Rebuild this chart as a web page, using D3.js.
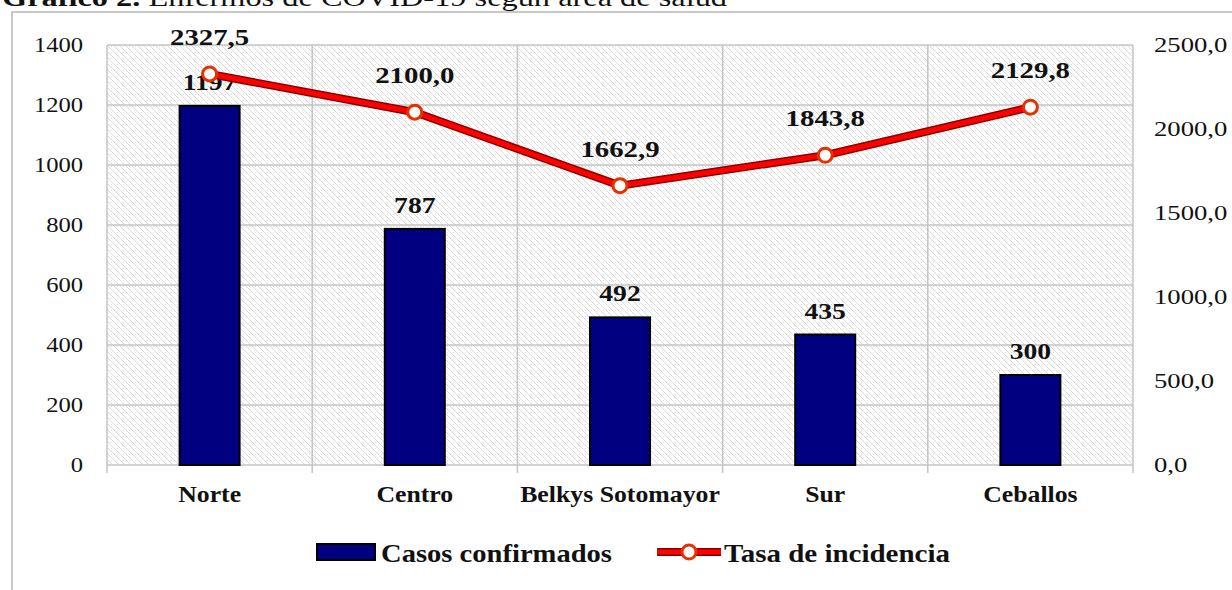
<!DOCTYPE html>
<html>
<head>
<meta charset="utf-8">
<script src="https://cdn.jsdelivr.net/npm/d3@7"></script>
<style>
  body { margin: 0; background: #fff; }
  text { font-family: "Liberation Serif", "Times New Roman", serif; }
</style>
</head>
<body>
<svg id="chart"></svg>
<script>
const areas = ["Norte", "Centro", "Belkys Sotomayor", "Sur", "Ceballos"];
const casos = [1197, 787, 492, 435, 300];
const tasa = [2327.5, 2100.0, 1662.9, 1843.8, 2129.8];
const leftTicks = [0, 200, 400, 600, 800, 1000, 1200, 1400];
const rightTicks = [0, 500, 1000, 1500, 2000, 2500];

const W = 1232, H = 590;
const margin = {top: 45, right: 99, bottom: 125, left: 107};
const width = W - margin.left - margin.right;
const height = H - margin.top - margin.bottom;

// the original picture is stretched sideways, so widen the texts a bit
function widen(sel, k) {
  sel.each(function () {
    const len = this.getComputedTextLength();
    d3.select(this).attr("textLength", len * k).attr("lengthAdjust", "spacingAndGlyphs");
  });
}

const svg = d3.select("#chart").attr("width", W).attr("height", H);

const defs = svg.append("defs");
const pat = defs.append("pattern")
  .attr("id", "hatch")
  .attr("patternUnits", "userSpaceOnUse")
  .attr("width", 6).attr("height", 6);
pat.append("rect").attr("width", 6).attr("height", 6).attr("fill", "#fff");
pat.append("path").attr("d", "M-1,-1 L7,7 M-1,5 L1,7 M5,-1 L7,1")
  .attr("stroke", "#d6d6d6").attr("stroke-width", 0.9);
pat.append("circle").attr("cx", 4.5).attr("cy", 1.5).attr("r", 0.5).attr("fill", "#d0d0d0");

// title, mostly cut off at the top
svg.append("text")
  .attr("x", 2).attr("y", 6)
  .attr("font-size", 26)
  .attr("textLength", 725).attr("lengthAdjust", "spacingAndGlyphs")
  .attr("fill", "#111")
  .html('<tspan font-weight="bold">Gráfico 2.</tspan> Enfermos de COVID-19 según área de salud');

// outer frame
svg.append("path")
  .attr("d", `M12,${H} L12,12 L${W},12`)
  .attr("fill", "none").attr("stroke", "#c8c8c8").attr("stroke-width", 2);

const g = svg.append("g").attr("transform", `translate(${margin.left},${margin.top})`);

const x = d3.scaleBand().domain(areas).range([0, width]);
const yL = d3.scaleLinear().domain([0, 1400]).range([height, 0]);
const yR = d3.scaleLinear().domain([0, 2500]).range([height, 0]);
const cx = i => x(areas[i]) + x.bandwidth() / 2;
const fmt1 = d => d3.format(".1f")(d).replace(".", ",");

g.append("rect").attr("width", width).attr("height", height).attr("fill", "url(#hatch)");

// grid
g.selectAll(".hgrid").data(leftTicks).enter().append("line")
  .attr("x1", 0).attr("x2", width)
  .attr("y1", d => yL(d)).attr("y2", d => yL(d))
  .attr("stroke", "#c4c4c4").attr("stroke-width", 1.5);
g.selectAll(".vgrid").data(areas.slice(1)).enter().append("line")
  .attr("x1", d => x(d)).attr("x2", d => x(d))
  .attr("y1", 0).attr("y2", height + 8)
  .attr("stroke", "#c4c4c4").attr("stroke-width", 1.5);
[0, width].forEach(v => {
  g.append("line").attr("x1", v).attr("x2", v).attr("y1", 0).attr("y2", height + 8)
    .attr("stroke", "#c4c4c4").attr("stroke-width", 1.5);
});

// axes labels
const yAxisL = d3.axisLeft(yL).tickValues(leftTicks).tickSize(0).tickPadding(24).tickFormat(d3.format("d"));
const yAxisR = d3.axisRight(yR).tickValues(rightTicks).tickSize(0).tickPadding(21).tickFormat(fmt1);
const xAxis = d3.axisBottom(x).tickSize(0).tickPadding(21);

const axL = g.append("g").call(yAxisL);
const axR = g.append("g").attr("transform", `translate(${width},0)`).call(yAxisR);
const axX = g.append("g").attr("transform", `translate(0,${height})`).call(xAxis);
[axL, axR, axX].forEach(a => {
  a.select(".domain").remove();
  a.selectAll("text").attr("font-family", "Liberation Serif").attr("fill", "#111");
});
axL.selectAll("text").attr("font-size", 21);
axR.selectAll("text").attr("font-size", 21);
axX.selectAll("text").attr("font-size", 23).attr("font-weight", "bold");
widen(axL.selectAll("text"), 1.17);
widen(axR.selectAll("text"), 1.27);
widen(axX.selectAll("text"), 1.12);

// bars
const bw = 60;
g.selectAll(".bar").data(casos).enter().append("rect")
  .attr("x", (d, i) => cx(i) - bw / 2)
  .attr("y", d => yL(d))
  .attr("width", bw)
  .attr("height", d => height - yL(d))
  .attr("fill", "#000080")
  .attr("stroke", "#000").attr("stroke-width", 2);

const barLabs = g.selectAll(".barlab").data(casos).enter().append("text")
  .attr("x", (d, i) => cx(i))
  .attr("y", d => yL(d) - 16)
  .attr("text-anchor", "middle")
  .attr("font-size", 24).attr("font-weight", "bold").attr("fill", "#111")
  .text(d => d);

// line
const line = d3.line()
  .x((d, i) => cx(i))
  .y(d => yR(d));
g.append("path").datum(tasa).attr("d", line)
  .attr("fill", "none").attr("stroke", "#8a0000").attr("stroke-width", 8);
g.append("path").datum(tasa).attr("d", line)
  .attr("fill", "none").attr("stroke", "#ff0000").attr("stroke-width", 5);
g.selectAll(".pt").data(tasa).enter().append("circle")
  .attr("cx", (d, i) => cx(i))
  .attr("cy", d => yR(d))
  .attr("r", 7)
  .attr("fill", "#fff").attr("stroke", "#e83000").attr("stroke-width", 3);

const lineLabs = g.selectAll(".linelab").data(tasa).enter().append("text")
  .attr("x", (d, i) => cx(i))
  .attr("y", d => yR(d) - 29)
  .attr("text-anchor", "middle")
  .attr("font-size", 24).attr("font-weight", "bold").attr("fill", "#111")
  .text(fmt1);

widen(barLabs, 1.15);
widen(lineLabs, 1.2);

// legend
const leg = svg.append("g");
leg.append("rect").attr("x", 317).attr("y", 544).attr("width", 58).attr("height", 16)
  .attr("fill", "#000080").attr("stroke", "#000").attr("stroke-width", 2);
leg.append("text").attr("x", 381).attr("y", 562)
  .attr("font-size", 25).attr("font-weight", "bold").attr("fill", "#111")
  .attr("textLength", 231).attr("lengthAdjust", "spacingAndGlyphs").text("Casos confirmados");
leg.append("line").attr("x1", 657).attr("x2", 721).attr("y1", 552).attr("y2", 552)
  .attr("stroke", "#8a0000").attr("stroke-width", 8);
leg.append("line").attr("x1", 657).attr("x2", 721).attr("y1", 552).attr("y2", 552)
  .attr("stroke", "#ff0000").attr("stroke-width", 5);
leg.append("circle").attr("cx", 689).attr("cy", 552).attr("r", 7)
  .attr("fill", "#fff").attr("stroke", "#e83000").attr("stroke-width", 3);
leg.append("text").attr("x", 724).attr("y", 562)
  .attr("font-size", 25).attr("font-weight", "bold").attr("fill", "#111")
  .attr("textLength", 226).attr("lengthAdjust", "spacingAndGlyphs").text("Tasa de incidencia");
</script>
</body>
</html>
